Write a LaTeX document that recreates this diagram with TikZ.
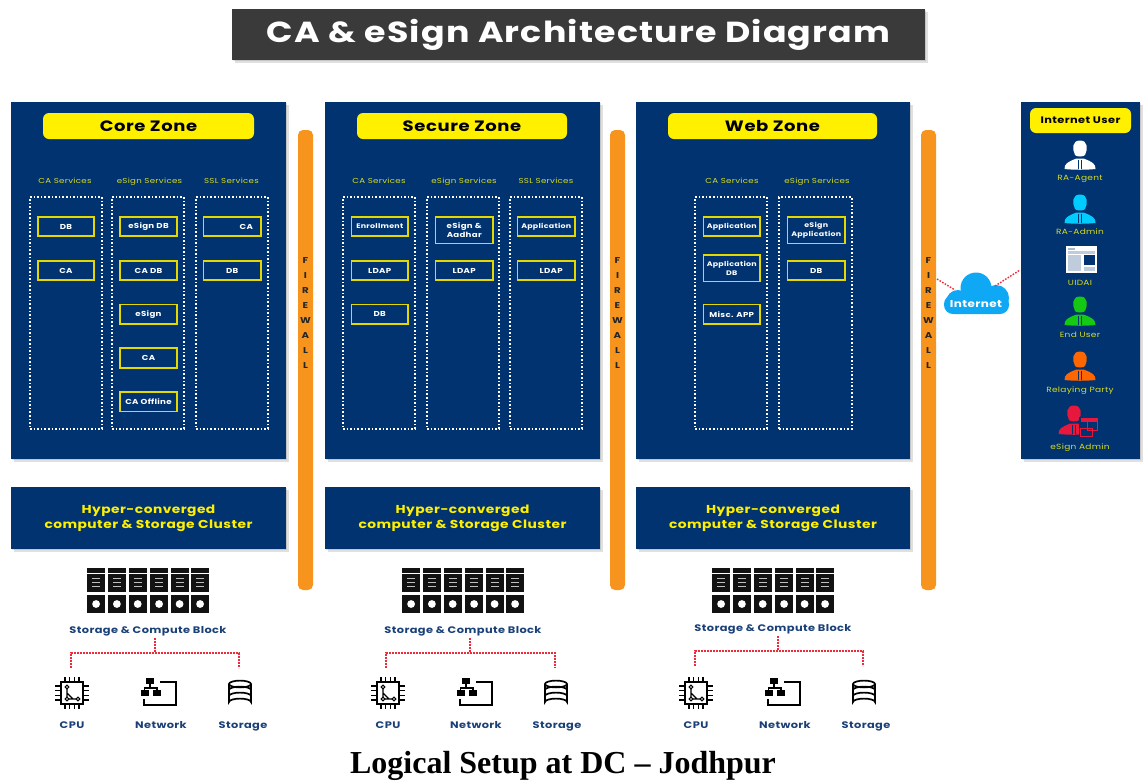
\documentclass[tikz,border=0pt]{standalone}
\usepackage{fontspec}
\setmainfont[FakeStretch=1.2,LetterSpace=4]{Poppins}
\newfontfamily\capfont{Liberation Serif}
\usetikzlibrary{shadows}
\definecolor{navy}{HTML}{003370}
\definecolor{pillyel}{HTML}{FFF000}
\definecolor{labyel}{HTML}{D9DC1E}
\definecolor{fworange}{HTML}{F7941E}
\definecolor{titlegrey}{HTML}{3A3A3A}
\definecolor{reddot}{HTML}{EE2A3C}
\definecolor{blocktxt}{HTML}{1A4078}
\definecolor{cloudblue}{HTML}{0FA8F5}
\definecolor{pcyan}{HTML}{00CCFF}
\definecolor{pgreen}{HTML}{14C814}
\definecolor{porange}{HTML}{FF6600}
\definecolor{pred}{HTML}{E8173C}
\newcommand{\fs}[1]{\fontsize{#1}{#1}\selectfont}
\tikzset{
  x=1pt,y=-1pt,
  softshadow/.style={
    drop shadow={shadow xshift=1pt,shadow yshift=-1pt,opacity=.12,fill=black},
    drop shadow={shadow xshift=3pt,shadow yshift=-3pt,opacity=.12,fill=black}},
  base/.style={inner sep=0pt,outer sep=0pt,align=center},
  panel/.style={base,fill=navy,softshadow},
  pill/.style={base,fill=pillyel,rounded corners=6pt,text=black,font=\fs{15}\bfseries},
  firewall/.style={base,fill=fworange,rounded corners=5pt},
  fwletter/.style={base,text=black!85,font=\fs{8.5}\bfseries},
  svc/.style={base,anchor=base,text=labyel,font=\fs{7.2}},
  dotbox/.style={base,draw=white,line width=1.5pt,dash pattern=on 1.6pt off 2pt},
  item/.style={base,draw=pillyel!90!black,line width=1.8pt,text=white,font=\fs{7.2}\bfseries,
     execute at begin node={\baselineskip=9.5pt}},
  hyper/.style={base,fill=navy,softshadow,text=pillyel,font=\fs{11.5}\bfseries,
     execute at begin node={\baselineskip=15pt}},
  blocklab/.style={base,anchor=base,text=blocktxt,font=\fs{9.5}\bfseries},
  persontxt/.style={base,anchor=base,text=labyel,font=\fs{7.5}},
  redline/.style={draw=reddot,line width=1.4pt,dash pattern=on 1.6pt off 1.4pt},
  person/.pic={
    \fill[#1] (0,-14.5) .. controls (-8,-14.5) and (-8,-6) .. (-5,0)
      .. controls (-4,2) and (4,2) .. (5,0) .. controls (8,-6) and (8,-14.5) .. (0,-14.5) -- cycle;
    \fill[#1] (-15.5,14) .. controls (-15.5,9) and (-13,7) .. (-3.5,3.5)
      -- (3.5,3.5) .. controls (13,7) and (15.5,9) .. (15.5,14)
      .. controls (6,15) and (-6,15) .. (-15.5,14) -- cycle;
    \draw[navy,line width=.9pt] (-1.6,5) -- (-1.6,14) (1.6,5) -- (1.6,14);
  },
  person/.default=white,
  windowicon/.pic={
    \fill[white] (-15.5,-13.5) rectangle (15.5,13.5);
    \fill[navy!25!white] (-13.5,-8.5) rectangle (13.5,-6);
    \fill[navy!25!white] (-13.5,-4.5) rectangle (0,11.5);
    \fill[navy] (3,-4.5) rectangle (13.5,5.5);
    \fill[navy!25!white] (3,7.5) rectangle (13.5,11.5);
    \fill[navy!35!white] (-13.5,-12) rectangle (-6,-10);
  },
  cpuicon/.pic={
    \draw[black,line width=1.6pt] (-11,-11) rectangle (11,11);
    \foreach \k in {-7,-2.3,2.3,7}{
      \draw[black,line width=1.2pt] (\k,-11) -- (\k,-16) (\k,11) -- (\k,16)
        (-11,\k) -- (-17,\k) (11,\k) -- (17,\k);}
    \draw[black,line width=1.1pt] (-5,-6) -- (-5,6) -- (6,6) (-5,0) -- (1,6);
    \fill[white,draw=black,line width=1.1pt] (-5,-6) circle (1.8) (-5,6) circle (1.8) (6,6) circle (1.8);
  },
  neticon/.pic={
    \fill[black] (-13,-15) rectangle (-5,-9);
    \fill[black] (-18.5,-3) rectangle (-10.5,3);
    \fill[black] (-6,-3) rectangle (2,3);
    \draw[black,line width=1.2pt] (-9,-9) -- (-9,-5) (-14.5,-3) -- (-14.5,-5) -- (-2,-5) -- (-2,-3);
    \draw[black,line width=1.5pt] (1,-11) -- (17,-11) -- (17,12) -- (-15,12) -- (-15,6);
  },
  drumicon/.pic={
    \draw[black,line width=1.7pt,fill=white] (-11,-9) -- (-11,9) arc[start angle=180,end angle=360,x radius=11,y radius=3.4] -- (11,-9);
    \draw[black,line width=1.7pt] (0,-9) ellipse[x radius=11,y radius=3.4];
    \draw[black,line width=1.7pt] (-11,-3) arc[start angle=180,end angle=360,x radius=11,y radius=3.4];
    \draw[black,line width=1.7pt] (-11,3) arc[start angle=180,end angle=360,x radius=11,y radius=3.4];
  },
}
\newcommand{\Bx}[7][]{\node[#1,minimum width={(#5-#3)*1pt},minimum height={(#6-#4)*1pt}] (#2) at ({(#3+#5)/2},{(#4+#6)/2}) {#7};}
\newcommand{\FW}[3]{%
  \Bx[firewall]{#1}{#2}{130}{#3}{590}{}
  \node[fwletter] (#1a) at ({(#2+#3)/2},261) {F};
  \node[fwletter] (#1b) at ({(#2+#3)/2},276) {I};
  \node[fwletter] (#1c) at ({(#2+#3)/2},291) {R};
  \node[fwletter] (#1d) at ({(#2+#3)/2},306) {E};
  \node[fwletter] (#1e) at ({(#2+#3)/2},321) {W};
  \node[fwletter] (#1f) at ({(#2+#3)/2},336) {A};
  \node[fwletter] (#1g) at ({(#2+#3)/2},351) {L};
  \node[fwletter] (#1h) at ({(#2+#3)/2},366) {L};}
\newcommand{\Server}[2]{%
  \foreach \i/\dx in {0/0,1/20.8,2/41.6,3/63,4/83.5,5/104}{
    \fill[black!93] ({#2+\dx},568) rectangle ({#2+\dx+18.2},572.5);
    \fill[black!93] ({#2+\dx},574) rectangle ({#2+\dx+18.2},592);
    \fill[black!93] ({#2+\dx},595) rectangle ({#2+\dx+18.2},613);
    \fill[white] ({#2+\dx+9.1},604) circle (3.9);
    \foreach \yy in {578,582,586}{\fill[white!75!black] ({#2+\dx+5},\yy) rectangle ({#2+\dx+13},{\yy+1.2});}
  }}
\newcommand{\Tree}[9]{%
  \node[blocklab] (#1lab) at (#2,{#3+3}) {Storage \& Compute Block};
  \coordinate (#1top) at (#6,{#3+8});
  \coordinate (#1jn) at (#6,#4);
  \coordinate (#1l) at (#5,{#4+15});
  \coordinate (#1r) at (#7,{#4+15});
  \draw[redline] (#1top) -- (#1jn);
  \draw[redline] (#1l) -- (#1l|-#1jn) -- (#1r|-#1jn) -- (#1r);
}
\newcommand{\Res}[6]{%
  \pic at (#1,693) {cpuicon};
  \pic at (#2,693) {neticon};
  \pic at (#3,693) {drumicon};
  \node[blocklab] at (#4,728.5) {CPU};
  \node[blocklab] at (#5,728.5) {Network};
  \node[blocklab] at (#6,728.5) {Storage};
}
\begin{document}
\begin{tikzpicture}
\useasboundingbox (0,0) rectangle (1146,780);
\Bx[panel,fill=titlegrey,text=white]{title}{232}{9}{925}{60}{\fs{29}\bfseries CA \& eSign Architecture Diagram}
\Bx[panel]{zone1}{11}{102}{286}{459}{}
\Bx[panel]{zone2}{325}{102}{600}{459}{}
\Bx[panel]{zone3}{636}{102}{910}{459}{}
\Bx[pill]{p1}{43}{113}{254}{139}{Core Zone}
\Bx[pill]{p2}{357}{113}{567}{139}{Secure Zone}
\Bx[pill]{p3}{668}{113}{877}{139}{Web Zone}
\node[svc] (s11) at (65,183) {CA Services};
\node[svc] (s12) at (149.5,183) {eSign Services};
\node[svc] (s13) at (231.5,183) {SSL Services};
\Bx[dotbox]{d11}{30}{197}{102}{429}{}
\Bx[dotbox]{d12}{112}{197}{184}{429}{}
\Bx[dotbox]{d13}{196}{197}{268}{429}{}
\Bx[item]{a1}{38}{217}{94}{236}{DB}
\Bx[item]{a2}{38}{261}{94}{280}{CA}
\Bx[item]{a3}{120}{217}{177}{236}{eSign DB}
\Bx[item]{a4}{120}{261}{177}{280}{CA DB}
\Bx[item]{a5}{120}{304.5}{177}{324}{eSign}
\Bx[item]{a6}{120}{348}{177}{368}{CA}
\Bx[item]{a7}{120}{392}{177}{411.5}{CA Offline}
\Bx[item]{a8}{203.5}{217}{261}{236}{\hspace*{28pt}CA}
\Bx[item]{a9}{203.5}{261}{261}{280}{DB}
\node[svc] (s21) at (379,183) {CA Services};
\node[svc] (s22) at (464,183) {eSign Services};
\node[svc] (s23) at (546,183) {SSL Services};
\Bx[dotbox]{d21}{343}{197}{415}{429}{}
\Bx[dotbox]{d22}{427}{197}{499}{429}{}
\Bx[dotbox]{d23}{510}{197}{582}{429}{}
\Bx[item]{b1}{351.5}{217}{408}{236}{\fs{6.6}Enrollment}
\Bx[item]{b2}{351.5}{261}{408}{280}{LDAP}
\Bx[item]{b3}{351.5}{304.5}{408}{324}{DB}
\Bx[item]{b4}{435.5}{217}{493}{243.5}{eSign \&\\Aadhar}
\Bx[item]{b5}{435.5}{261}{493}{280}{LDAP}
\Bx[item]{b6}{517.5}{217}{575}{236}{\fs{6.6}Application}
\Bx[item]{b7}{517.5}{261}{575}{280}{\hspace*{10pt}LDAP}
\node[svc] (s31) at (732,183) {CA Services};
\node[svc] (s32) at (817,183) {eSign Services};
\Bx[dotbox]{d31}{695}{197}{767}{429}{}
\Bx[dotbox]{d32}{779}{197}{852}{429}{}
\Bx[item]{c1}{703.5}{217}{760}{236}{\fs{6.6}Application}
\Bx[item]{c2}{703.5}{255}{760}{281.5}{\fs{6.6}Application\\\fs{6.6}DB}
\Bx[item]{c3}{703.5}{304.5}{760}{324}{Misc. APP}
\Bx[item]{c4}{787.5}{217}{845}{243.5}{\fs{6.6}eSign\\\fs{6.6}Application}
\Bx[item]{c5}{787.5}{261}{845}{280}{DB}
\Bx[hyper]{h1}{11}{487}{286}{549}{Hyper-converged\\computer \& Storage Cluster}
\Bx[hyper]{h2}{325}{487}{600}{549}{Hyper-converged\\computer \& Storage Cluster}
\Bx[hyper]{h3}{636}{487}{910}{549}{Hyper-converged\\computer \& Storage Cluster}
\FW{fa}{298}{313}
\FW{fb}{610}{625}
\FW{fc}{921}{936}
\Server{s1}{87}
\Server{s2}{402}
\Server{s3}{712}
\Tree{t1}{148}{630}{653}{71}{155}{239}{}{}
\Tree{t2}{463}{630}{653}{386}{470}{555}{}{}
\Tree{t3}{773}{628}{651}{695}{778}{863}{}{}
\Res{72}{159}{240}{72}{161}{243}
\Res{388}{475}{556}{388}{476}{557}
\Res{696}{783}{864}{696}{785}{866}
\Bx[panel]{users}{1021}{102}{1140}{459}{}
\Bx[pill,font=\fs{9.5}\bfseries]{up}{1030}{108}{1131}{133}{Internet User}
\pic at (1080,155) {person=white};
\node[persontxt] (u1) at (1080,180) {RA-Agent};
\pic at (1080,209) {person=pcyan};
\node[persontxt] (u2) at (1080,234) {RA-Admin};
\pic at (1081,259.5) {windowicon};
\node[persontxt] (u3) at (1080,285) {UIDAI};
\pic at (1080,311) {person=pgreen};
\node[persontxt] (u4) at (1080,337) {End User};
\pic at (1080,366) {person=porange};
\node[persontxt] (u5) at (1080,392) {Relaying Party};
\begin{scope}[shift={(1074,420)},scale=.85]
  \pic at (0,0) {person=pred};
\end{scope}
\fill[navy] (1079,417) rectangle (1099,437);
\fill[pred] (1081,418) rectangle (1097,421.5);
\draw[pred,line width=.9pt] (1087,418) rectangle (1097,430);
\draw[pred,line width=.9pt] (1080,428) rectangle (1092,436);
\node[persontxt] (u6) at (1080,449) {eSign Admin};
\fill[cloudblue] (976,288) circle (15.5);
\fill[cloudblue] (958,302) circle (12);
\fill[cloudblue] (996,298) circle (13);
\fill[cloudblue,rounded corners=9pt] (944,295) rectangle (1009,314);
\node[base,text=white,font=\fs{10}\bfseries] (inet) at (976,304) {Internet};
\coordinate (cl) at (955,290);
\coordinate (cr) at (995,286);
\coordinate (fwc) at (937,279);
\coordinate (pn) at (1020,270);
\draw[redline] (fwc) -- (cl);
\draw[redline] (cr) -- (pn);
\node[base,text=black,font=\capfont\fs{32}\bfseries] (cap) at (563,765.5) {Logical Setup at DC – Jodhpur};
\end{tikzpicture}
\end{document}
